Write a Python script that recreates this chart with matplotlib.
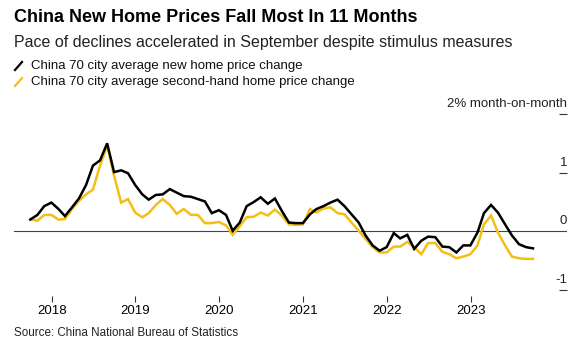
import numpy as np
import pandas as pd
import matplotlib
matplotlib.use("Agg")
import matplotlib.pyplot as plt
import matplotlib.transforms as mtransforms
from matplotlib.lines import Line2D

plt.rcParams["font.family"] = ["Liberation Sans", "DejaVu Sans"]

# monthly readings, Sep 2017 - Sep 2023 (% month-on-month)
months = pd.date_range("2017-09-30", "2023-09-30", freq="ME")

new_home = [
    0.20, 0.28, 0.43, 0.49,
    0.38, 0.26, 0.41, 0.56, 0.79, 1.12, 1.21, 1.50, 1.01, 1.04, 0.99, 0.79,
    0.63, 0.54, 0.62, 0.63, 0.72, 0.66, 0.60, 0.59, 0.55, 0.51, 0.31, 0.36,
    0.28, 0.01, 0.15, 0.43, 0.50, 0.58, 0.47, 0.56, 0.35, 0.15, 0.14, 0.14,
    0.29, 0.38, 0.43, 0.49, 0.54, 0.43, 0.29, 0.15, -0.07, -0.24, -0.33, -0.27,
    -0.03, -0.12, -0.06, -0.30, -0.16, -0.09, -0.10, -0.26, -0.27, -0.36, -0.24, -0.24,
    -0.02, 0.31, 0.45, 0.32, 0.12, -0.07, -0.22, -0.27, -0.29,
]
second_hand = [
    0.21, 0.18, 0.28, 0.28,
    0.20, 0.21, 0.38, 0.52, 0.63, 0.71, 1.12, 1.46, 0.95, 0.49, 0.55, 0.32,
    0.24, 0.31, 0.45, 0.55, 0.45, 0.30, 0.38, 0.28, 0.28, 0.14, 0.14, 0.16,
    0.10, -0.06, 0.09, 0.24, 0.25, 0.32, 0.27, 0.37, 0.27, 0.12, 0.11, 0.12,
    0.38, 0.32, 0.39, 0.41, 0.31, 0.29, 0.15, 0.01, -0.13, -0.27, -0.36, -0.36,
    -0.26, -0.26, -0.18, -0.27, -0.39, -0.20, -0.20, -0.35, -0.39, -0.46, -0.43, -0.39,
    -0.24, 0.12, 0.27, -0.02, -0.24, -0.43, -0.46, -0.47, -0.47,
]

y_ticks = [2, 1, 0, -1]
y_labels = ["2% month-on-month", "1", "0", "-1"]
years = [2018, 2019, 2020, 2021, 2022, 2023]

BLACK = "#000000"
YELLOW = "#F3BF17"

W, H = 587, 349
fig = plt.figure(figsize=(W / 100, H / 100), dpi=100)
ax = fig.add_axes([14 / W, 1 - 290 / H, (567 - 14) / W, (290 - 114) / H])

ax.plot(months, second_hand, color=YELLOW, lw=1.8, solid_joinstyle="miter", zorder=3)
ax.plot(months, new_home, color=BLACK, lw=1.8, solid_joinstyle="miter", zorder=4)
ax.axhline(0, color="#444444", lw=0.8, zorder=2)

ax.set_ylim(-1, 2)
ax.set_xlim(pd.Timestamp("2017-07-21"), pd.Timestamp("2024-02-25"))

for s in ["top", "left", "right", "bottom"]:
    ax.spines[s].set_visible(False)
ax.spines["bottom"].set_position(("outward", 4))

ax.set_xticks([pd.Timestamp(f"{y}-01-01") for y in years])
ax.set_xticklabels([str(y) for y in years], fontsize=9.5)
ax.tick_params(axis="x", length=4, width=0.8, color="#333333", pad=3)

# y ticks: short dashes at right edge with labels sitting above them
ax.set_yticks([v for v in y_ticks if v != 0])
ax.set_yticklabels([])
ax.yaxis.tick_right()
ax.tick_params(axis="y", direction="in", length=6, width=0.8, color="#333333")
trans = mtransforms.blended_transform_factory(ax.transAxes, ax.transData)
for v, lab in zip(y_ticks, y_labels):
    ax.annotate(lab, xy=(1.0, v), xycoords=trans, xytext=(0, 3),
                textcoords="offset points", ha="right", va="bottom",
                fontsize=9.5, color="#222222")

# header
fig.text(14 / W, 1 - 18 / H, "China New Home Prices Fall Most In 11 Months",
         fontsize=13, fontweight="bold", va="center", ha="left")
fig.text(14 / W, 1 - 43 / H, "Pace of declines accelerated in September despite stimulus measures",
         fontsize=11.5, va="center", ha="left", color="#222222")

legend_items = [(BLACK, "China 70 city average new home price change", 66),
                (YELLOW, "China 70 city average second-hand home price change", 82)]
for col, txt, yy in legend_items:
    fig.add_artist(Line2D([15 / W, 22 / W], [1 - (yy + 4) / H, 1 - (yy - 4) / H],
                          color=col, lw=1.6, transform=fig.transFigure))
    fig.text(31 / W, 1 - yy / H, txt, fontsize=9.5, va="center", ha="left", color="#111111")

fig.text(14 / W, 1 - 333 / H, "Source: China National Bureau of Statistics",
         fontsize=8.4, va="center", ha="left", color="#222222")

fig.savefig("out.png", dpi=100)
